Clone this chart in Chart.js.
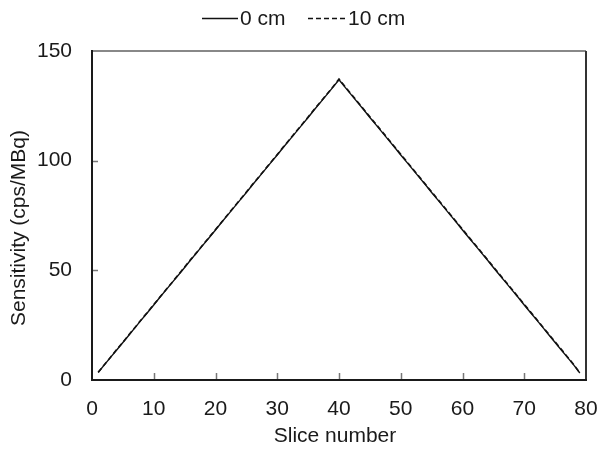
<!DOCTYPE html>
<html><head><meta charset="utf-8">
<script src="https://cdn.jsdelivr.net/npm/chart.js@4"></script>
<style>html,body{margin:0;padding:0;background:#fff}#w{width:606px;height:449px}</style>
</head><body><div id="w"><canvas id="c" width="606" height="449"></canvas></div>
<script>
const slices = [];
for (let i = 1; i <= 79; i++) slices.push(i);
const seriesNames = ["0 cm", "10 cm"];
const sens0 = [3.4,6.9,10.3,13.7,17.1,20.5,24.0,27.4,30.8,34.2,37.7,41.1,44.5,47.9,51.3,54.8,58.2,61.6,65.0,68.4,71.9,75.3,78.7,82.1,85.5,89.0,92.4,95.8,99.2,102.6,106.1,109.5,112.9,116.3,119.7,123.2,126.6,130.0,133.4,136.9,
133.4,130.0,126.6,123.2,119.7,116.3,112.9,109.5,106.1,102.6,99.2,95.8,92.4,89.0,85.5,82.1,78.7,75.3,71.9,68.4,65.0,61.6,58.2,54.8,51.3,47.9,44.5,41.1,37.7,34.2,30.8,27.4,24.0,20.5,17.1,13.7,10.3,6.9,3.2];
const sens10 = [3.5,7.0,10.4,13.9,17.2,20.7,24.1,27.6,30.9,34.4,37.8,41.3,44.6,48.1,51.5,55.0,58.3,61.8,65.2,68.6,72.0,75.5,78.9,82.3,85.7,89.2,92.5,96.0,99.4,102.8,106.3,109.7,113.1,116.5,119.9,123.4,126.8,130.2,133.6,137.2,
133.7,130.3,126.9,123.4,120.0,116.6,113.2,109.8,106.3,102.9,99.5,96.1,92.7,89.2,85.8,82.4,79.0,75.6,72.1,68.7,65.3,61.9,58.5,55.0,51.6,48.2,44.8,41.4,37.9,34.5,31.1,27.7,24.2,20.8,17.4,14.0,10.5,7.1,3.3];
const xTicks = [0,10,20,30,40,50,60,70,80];
const yTicks = [0,50,100,150];
const xTitle = 'Slice number';
const yTitle = 'Sensitivity (cps/MBq)';

const FONT = "'Liberation Sans', Arial, sans-serif";
const FS = 21;
const TXT = '#1a1a1a';

const framePlugin = {
  id: 'frame',
  afterDatasetsDraw(chart) {
    const {ctx, chartArea: a, scales: {x, y}} = chart;
    ctx.save();
    // inward ticks
    ctx.strokeStyle = '#777';
    ctx.lineWidth = 1.5;
    ctx.beginPath();
    xTicks.forEach(v => { if (v > 0 && v < 80) { const px = Math.round(x.getPixelForValue(v)) + 0.5; ctx.moveTo(px, a.bottom); ctx.lineTo(px, a.bottom - 7); } });
    yTicks.forEach(v => { if (v > 0 && v < 150) { const py = Math.round(y.getPixelForValue(v)) + 0.5; ctx.moveTo(a.left, py); ctx.lineTo(a.left + 6, py); } });
    ctx.stroke();
    // borders
    ctx.strokeStyle = '#888';
    ctx.lineWidth = 2;
    ctx.beginPath(); ctx.moveTo(a.left, a.top); ctx.lineTo(a.right, a.top); ctx.stroke();
    ctx.strokeStyle = '#333';
    ctx.beginPath(); ctx.moveTo(a.right, a.top); ctx.lineTo(a.right, a.bottom); ctx.stroke();
    ctx.strokeStyle = '#1a1a1a';
    ctx.beginPath(); ctx.moveTo(a.left, a.top - 1); ctx.lineTo(a.left, a.bottom); ctx.lineTo(a.right + 1, a.bottom); ctx.stroke();
    // legend
    ctx.font = FS + 'px ' + FONT;
    ctx.fillStyle = TXT;
    ctx.textBaseline = 'middle';
    ctx.textAlign = 'left';
    const ly = 18.5;
    ctx.strokeStyle = '#111';
    ctx.lineWidth = 1.3;
    ctx.setLineDash([]);
    ctx.beginPath(); ctx.moveTo(202, ly); ctx.lineTo(238, ly); ctx.stroke();
    ctx.fillText(seriesNames[0], 240, ly + 1);
    ctx.setLineDash([5, 3]);
    ctx.beginPath(); ctx.moveTo(308, ly); ctx.lineTo(347, ly); ctx.stroke();
    ctx.setLineDash([]);
    ctx.fillText(seriesNames[1], 348, ly + 1);
    // axis titles
    ctx.textAlign = 'center';
    ctx.fillText(xTitle, 335, 436);
    ctx.translate(19, 228);
    ctx.rotate(-Math.PI / 2);
    ctx.fillText(yTitle, 0, 0);
    ctx.restore();
  }
};

new Chart(document.getElementById('c'), {
  type: 'line',
  data: {
    datasets: [
      { label: seriesNames[0], data: slices.map((s, i) => ({x: s, y: sens0[i]})), borderColor: '#111', borderWidth: 1.4, pointRadius: 0, tension: 0 },
      { label: seriesNames[1], data: slices.map((s, i) => ({x: s, y: sens10[i]})), borderColor: '#111', borderWidth: 1.6, borderDash: [5, 3], pointRadius: 0, tension: 0 }
    ]
  },
  options: {
    responsive: false,
    animation: false,
    devicePixelRatio: 1,
    layout: { padding: { top: 51, right: 20, left: 0, bottom: 0 } },
    plugins: { legend: { display: false }, tooltip: { enabled: false } },
    scales: {
      x: {
        type: 'linear', min: 0, max: 80,
        afterBuildTicks: s => { s.ticks = xTicks.map(v => ({value: v})); },
        afterFit: s => { s.height = 69; s.paddingLeft = 0; s.paddingRight = 0; },
        grid: { display: false },
        border: { display: false },
        ticks: { font: { size: FS, family: FONT }, color: TXT, padding: 9, maxRotation: 0 },
        title: { display: false }
      },
      y: {
        type: 'linear', min: 0, max: 150,
        afterBuildTicks: s => { s.ticks = yTicks.map(v => ({value: v})); },
        afterFit: s => { s.width = 92; s.paddingTop = 0; s.paddingBottom = 0; },
        grid: { display: false },
        border: { display: false },
        ticks: { font: { size: FS, family: FONT }, color: TXT, padding: 12 },
        title: { display: false }
      }
    }
  },
  plugins: [framePlugin]
});
</script></body></html>
